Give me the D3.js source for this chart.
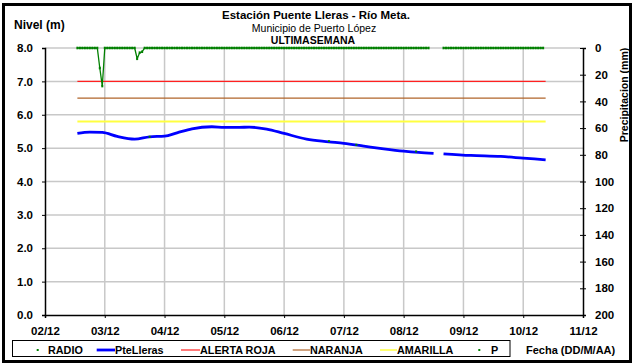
<!DOCTYPE html>
<html>
<head>
<meta charset="utf-8">
<script src="https://cdn.jsdelivr.net/npm/d3@7"></script>
<style>
  html, body { margin: 0; padding: 0; background: #fff; }
  svg { display: block; font-family: "Liberation Sans", Arial, sans-serif; }
</style>
</head>
<body>
<svg id="chart" width="635" height="364"></svg>
<script>
// ---- Data ----------------------------------------------------------------
// River level at Puente Lleras (m)
const levelTimes = [
  "2012-12-02 13:00", "2012-12-02 18:00", "2012-12-02 23:00", "2012-12-03 05:00",
  "2012-12-03 12:00", "2012-12-03 18:00", "2012-12-04 00:00", "2012-12-04 05:00",
  "2012-12-04 11:00", "2012-12-04 19:00", "2012-12-05 00:00", "2012-12-05 06:00",
  "2012-12-05 10:00", "2012-12-05 17:00", "2012-12-06 00:00", "2012-12-06 09:00",
  "2012-12-06 18:00", "2012-12-07 00:00", "2012-12-07 08:00", "2012-12-07 16:00",
  "2012-12-08 00:00", "2012-12-08 06:00", "2012-12-08 12:00", "2012-12-08 14:00",
  "2012-12-08 16:00", "2012-12-09 03:00", "2012-12-09 15:00", "2012-12-10 00:00",
  "2012-12-10 09:00"
];
const levelValues = [
  5.44, 5.48, 5.47, 5.35,
  5.27, 5.34, 5.36, 5.46,
  5.58, 5.64, 5.62, 5.62,
  5.63, 5.57, 5.44, 5.27,
  5.19, 5.14, 5.06, 4.98,
  4.91, 4.87, 4.84, null,
  4.83, 4.78, 4.75, 4.70,
  4.65
];

// Radio readings (sparse)
const radioTimes = ["2012-12-03 18:00", "2012-12-06 18:00", "2012-12-07 05:00", "2012-12-08 05:00"];
const radioValues = [5.34, 5.21, 5.10, 4.90];

// Alert thresholds (m)
const alertStart = "2012-12-02 13:00";
const alertEnd = "2012-12-10 09:00";
const alertRoja = 7.0;
const alertNaranja = 6.5;
const alertAmarilla = 5.8;

// Hourly precipitation (mm), first reading at precipStart
const precipStart = "2012-12-02 13:00";
const precipValues = [
  0, 0, 0, 0, 0, 0, 0, 0, 0, 15, 28.5,
  0, 0, 0, 0, 0, 0, 0, 0, 0, 0, 0, 0, 0, 8, 3.5, 2.8, 0, 0, 0, 0, 0, 0, 0, 0,
  0, 0, 0, 0, 0, 0, 0, 0, 0, 0, 0, 0, 0, 0, 0, 0, 0, 0, 0, 0, 0, 0, 0, 0,
  0, 0, 0, 0, 0, 0, 0, 0, 0, 0, 0, 0, 0, 0, 0, 0, 0, 0, 0, 0, 0, 0, 0, 0,
  0, 0, 0, 0, 0, 0, 0, 0, 0, 0, 0, 0, 0, 0, 0, 0, 0, 0, 0, 0, 0, 0, 0, 0,
  0, 0, 0, 0, 0, 0, 0, 0, 0, 0, 0, 0, 0, 0, 0, 0, 0, 0, 0, 0, 0, 0, 0, 0,
  0, 0, 0, 0, 0, 0, 0, 0, 0, 0, 0, null, null, null, null, null, 0, 0, 0, 0, 0, 0, 0, 0,
  0, 0, 0, 0, 0, 0, 0, 0, 0, 0, 0, 0, 0, 0, 0, 0, 0, 0, 0, 0, 0, 0, 0, 0,
  0, 0, 0, 0, 0, 0, 0, 0, 0
];

// Axis settings
const xDomain = ["2012-12-02 00:00", "2012-12-11 00:00"];
const levelTicks = [0, 1, 2, 3, 4, 5, 6, 7, 8];
const precipTicks = [0, 20, 40, 60, 80, 100, 120, 140, 160, 180, 200];

const titleLines = ["Estación Puente Lleras - Río Meta.", "Municipio de Puerto López", "ULTIMASEMANA"];

// ---- Setup ---------------------------------------------------------------
const parse = d3.timeParse("%Y-%m-%d %H:%M");
const svg = d3.select("#chart");

const plot = { left: 45, right: 583, top: 48, bottom: 315 };

const x = d3.scaleTime().domain(xDomain.map(parse)).range([plot.left, plot.right]);
const yL = d3.scaleLinear().domain([0, 8]).range([plot.bottom, plot.top]);
const yR = d3.scaleLinear().domain([0, 200]).range([plot.top, plot.bottom]);

const level = levelTimes.map((t, i) => ({ t: parse(t), v: levelValues[i] }));
const radio = radioTimes.map((t, i) => ({ t: parse(t), v: radioValues[i] }));
const p0 = parse(precipStart);
const precip = precipValues.map((v, i) => ({ t: d3.timeHour.offset(p0, i), v }));

// Outer frame
svg.append("rect")
  .attr("x", 3.5).attr("y", 4.5).attr("width", 627).attr("height", 357)
  .attr("fill", "#fff").attr("stroke", "#000").attr("stroke-width", 3);

// Gridlines
const grid = svg.append("g").attr("stroke", "#c8c8c8").attr("stroke-width", 1.5);
grid.selectAll("line.h").data(levelTicks.filter(d => d > 0)).join("line")
  .attr("x1", plot.left).attr("x2", plot.right)
  .attr("y1", d => yL(d)).attr("y2", d => yL(d));
const dayTicks = x.ticks(d3.timeDay.every(1));
grid.selectAll("line.v").data(dayTicks.slice(1, -1)).join("line")
  .attr("y1", plot.top).attr("y2", plot.bottom)
  .attr("x1", d => x(d)).attr("x2", d => x(d));

// Axes
const tickFont = size => g => g.selectAll("text")
  .attr("font-size", size).attr("font-weight", "bold").attr("fill", "#000")
  .attr("font-family", "'Liberation Sans', Arial, sans-serif");

const leftAxis = svg.append("g").attr("transform", `translate(${plot.left},0)`)
  .call(d3.axisLeft(yL).tickValues(levelTicks).tickFormat(d3.format(".1f")).tickSize(3).tickPadding(9))
  .call(tickFont(11.5));
leftAxis.select(".domain").attr("stroke", "#000").attr("stroke-width", 1.5);

const rightAxis = svg.append("g").attr("transform", `translate(${plot.right},0)`)
  .call(d3.axisRight(yR).tickValues(precipTicks).tickSize(3).tickPadding(9))
  .call(tickFont(11.5));
rightAxis.select(".domain").attr("stroke", "#000").attr("stroke-width", 1.5);
rightAxis.selectAll(".tick line").attr("x1", -3).attr("x2", 3);

const bottomAxis = svg.append("g").attr("transform", `translate(0,${plot.bottom})`)
  .call(d3.axisBottom(x).ticks(d3.timeDay.every(1)).tickFormat(d3.timeFormat("%d/%m")).tickSize(3).tickPadding(7))
  .call(tickFont(11.5));
bottomAxis.select(".domain").attr("stroke", "#000").attr("stroke-width", 1.5);
bottomAxis.selectAll("text").attr("dy", "0.85em");

// Alert levels
const alerts = [
  { v: alertRoja, color: "#ff2020", w: 1.2 },
  { v: alertNaranja, color: "#b0642a", w: 1.2 },
  { v: alertAmarilla, color: "#ffff40", w: 2 }
];
svg.append("g").selectAll("line").data(alerts).join("line")
  .attr("x1", x(parse(alertStart))).attr("x2", x(parse(alertEnd)))
  .attr("y1", d => yL(d.v)).attr("y2", d => yL(d.v))
  .attr("stroke", d => d.color).attr("stroke-width", d => d.w);

// Level line
svg.append("path").datum(level)
  .attr("fill", "none").attr("stroke", "#0000ff").attr("stroke-width", 2.8)
  .attr("stroke-linejoin", "round")
  .attr("d", d3.line().defined(d => d.v != null).x(d => x(d.t)).y(d => yL(d.v)).curve(d3.curveMonotoneX));

// Radio dots
svg.append("g").selectAll("rect").data(radio).join("rect")
  .attr("x", d => x(d.t) - 1).attr("y", d => yL(d.v) - 1)
  .attr("width", 2).attr("height", 2).attr("fill", "#008000");

// Precipitation (hanging from the top, reversed axis)
svg.append("path").datum(precip)
  .attr("fill", "none").attr("stroke", "#008000").attr("stroke-width", 1.3)
  .attr("d", d3.line().defined(d => d.v != null).x(d => x(d.t)).y(d => yR(d.v)));
svg.append("g").selectAll("rect").data(precip.filter(d => d.v != null)).join("rect")
  .attr("x", d => x(d.t) - 1).attr("y", d => yR(d.v) - 1.3)
  .attr("width", 2).attr("height", 2.6).attr("fill", "#008000");

// Titles
const title = svg.append("g").attr("text-anchor", "middle").attr("fill", "#000");
title.append("text").attr("x", 316).attr("y", 19).attr("font-size", 11.5).attr("font-weight", "bold").text(titleLines[0]);
title.append("text").attr("x", 314).attr("y", 32).attr("font-size", 10.5).text(titleLines[1]);
title.append("text").attr("x", 313).attr("y", 44).attr("font-size", 10.5).attr("font-weight", "bold").text(titleLines[2]);

svg.append("text").attr("x", 14).attr("y", 29).attr("font-size", 12).attr("font-weight", "bold").text("Nivel (m)");

svg.append("text")
  .attr("transform", "translate(624,95) rotate(-90)")
  .attr("text-anchor", "middle").attr("dy", "0.35em")
  .attr("font-size", 10.5).attr("font-weight", "bold").text("Precipitacion (mm)");

svg.append("text").attr("x", 526).attr("y", 354).attr("font-size", 11).attr("font-weight", "bold").text("Fecha (DD/M/AA)");

// Legend
const legend = svg.append("g");
legend.append("rect").attr("x", 12.5).attr("y", 340.5).attr("width", 497.5).attr("height", 16)
  .attr("fill", "#fff").attr("stroke", "#000").attr("stroke-width", 1);
const legendItems = [
  { label: "RADIO", type: "dot", color: "#008000", sx: 37.7, tx: 48 },
  { label: "PteLleras", type: "line", color: "#0000ff", w: 2.8, sx: 96.7, ex: 115, tx: 115 },
  { label: "ALERTA ROJA", type: "line", color: "#ff2020", w: 1.2, sx: 181, ex: 200, tx: 200 },
  { label: "NARANJA", type: "line", color: "#b0642a", w: 1.2, sx: 292.7, ex: 310, tx: 310 },
  { label: "AMARILLA", type: "line", color: "#ffff40", w: 1.5, sx: 380, ex: 397, tx: 397 },
  { label: "P", type: "dot", color: "#008000", sx: 479.3, tx: 491 }
];
legendItems.forEach(it => {
  if (it.type === "dot") {
    legend.append("rect").attr("x", it.sx - 1).attr("y", 349).attr("width", 2).attr("height", 2).attr("fill", it.color);
  } else {
    legend.append("line").attr("x1", it.sx).attr("x2", it.ex).attr("y1", 350).attr("y2", 350)
      .attr("stroke", it.color).attr("stroke-width", it.w);
  }
  legend.append("text").attr("x", it.tx).attr("y", 353.5).attr("font-size", 10.8).attr("font-weight", "bold").text(it.label);
});
</script>
</body>
</html>
